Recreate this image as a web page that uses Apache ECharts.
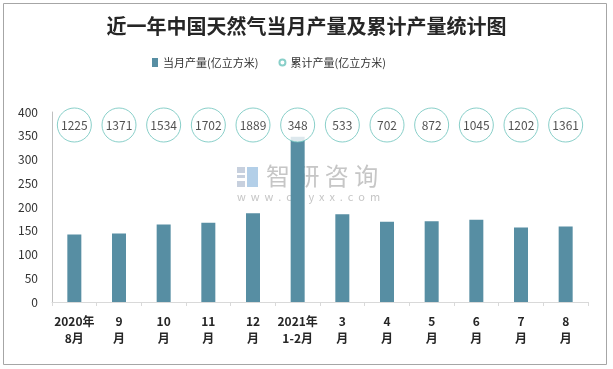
<!DOCTYPE html>
<html><head><meta charset="utf-8">
<script src="https://cdn.jsdelivr.net/npm/echarts@6/dist/echarts.min.js"></script>
<style>html,body{margin:0;padding:0;background:#fff}#c{width:613px;height:369px}</style>
</head><body><div id="c"></div>
<script>
const categories = ['2020年\n8月','9\n月','10\n月','11\n月','12\n月','2021年\n1-2月','3\n月','4\n月','5\n月','6\n月','7\n月','8\n月'];
const monthly = [142, 144, 163, 167, 187, 348, 185, 169, 170, 173, 157, 159];
const cumulative = [1225, 1371, 1534, 1702, 1889, 348, 533, 702, 872, 1045, 1202, 1361];
const yTicks = {min: 0, max: 400, interval: 50};
const rowName = '累计';

const chart = echarts.init(document.getElementById('c'));
const font = '"Noto Sans CJK SC", "Microsoft YaHei", sans-serif';
const wm = '#c6c6c6';
chart.setOption({
  animation: false,
  backgroundColor: '#fff',
  title: {
    text: '近一年中国天然气当月产量及累计产量统计图',
    left: 'center', top: 11,
    textStyle: {fontFamily: font, fontSize: 20, fontWeight: 'bold', color: '#262626'}
  },
  legend: {
    top: 52, left: 147, itemGap: 20, itemWidth: 6, itemHeight: 9,
    textStyle: {fontFamily: font, fontSize: 11, color: '#333'},
    data: [
      {name: '当月产量(亿立方米)', icon: 'rect'},
      {name: '累计产量(亿立方米)', icon: 'circle'}
    ]
  },
  graphic: [
    {type: 'rect', z: 100, shape: {x: 3.5, y: 3.5, width: 603, height: 361}, style: {fill: 'none', stroke: '#a6a6a6', lineWidth: 1}, silent: true},
    {type: 'group', z: -10, silent: true, children: [
      {type: 'rect', z: -10, shape: {x: 237, y: 167, width: 8, height: 6}, style: {fill: '#c7d0de'}},
      {type: 'rect', z: -10, shape: {x: 237, y: 175, width: 8, height: 3}, style: {fill: '#c7d0de'}},
      {type: 'rect', z: -10, shape: {x: 237, y: 181, width: 8, height: 6}, style: {fill: '#c7d0de'}},
      {type: 'rect', z: -10, shape: {x: 247, y: 167, width: 11, height: 20}, style: {fill: '#b3cfe8'}},
      {type: 'text', z: -10, x: 266, y: 164, style: {text: '智 研 咨 询', fontFamily: font, fontSize: 24, fill: wm}},
      {type: 'text', z: -10, x: 237, y: 191, style: {text: 'w  w  w  .  c  h  y  x  x  .  c  o  m', fontFamily: font, fontSize: 11, fill: wm}}
    ]}
  ],
  grid: [
    {left: 52, right: 25, top: 112, height: 190},
    {left: 52, right: 25, top: 108, height: 34}
  ],
  xAxis: [
    {
      type: 'category', data: categories, gridIndex: 0,
      axisLine: {lineStyle: {color: '#d9d9d9'}},
      axisTick: {show: true, length: 4, lineStyle: {color: '#d9d9d9'}},
      axisLabel: {fontFamily: font, fontSize: 12, fontWeight: 'bold', color: '#262626', lineHeight: 17, margin: 11, interval: 0}
    },
    {type: 'category', data: categories, gridIndex: 1, show: false}
  ],
  yAxis: [
    {
      type: 'value', gridIndex: 0, min: yTicks.min, max: yTicks.max, interval: yTicks.interval,
      axisLine: {show: true, lineStyle: {color: '#bfbfbf'}},
      axisTick: {show: false},
      splitLine: {show: false},
      axisLabel: {fontFamily: font, fontSize: 12, color: '#333', margin: 14}
    },
    {type: 'category', data: [rowName], gridIndex: 1, show: false}
  ],
  series: [
    {
      name: '当月产量(亿立方米)', type: 'bar', xAxisIndex: 0, yAxisIndex: 0, z: 5,
      data: monthly, barWidth: 14,
      itemStyle: {color: '#578ea3'}
    },
    {
      name: '累计产量(亿立方米)', type: 'scatter', xAxisIndex: 1, yAxisIndex: 1, z: 6,
      data: cumulative.map((v, i) => [i, rowName, v]),
      symbol: 'circle', symbolSize: 34,
      itemStyle: {color: '#fff', borderColor: '#6cc3bb', borderWidth: 1},
      label: {show: true, position: 'inside', formatter: p => p.value[2], fontFamily: font, fontSize: 12, color: '#262626'}
    }
  ]
});
</script></body></html>
